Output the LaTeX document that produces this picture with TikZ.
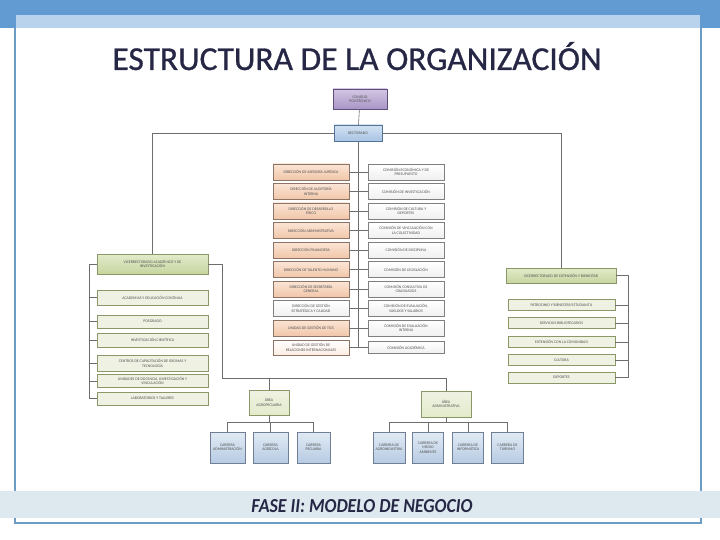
\documentclass[tikz,border=0pt]{standalone}
\usepackage{fontspec}
\setmainfont{Carlito}
\newfontfamily\titlefont{Carlito}[FakeBold=0.8]
\usepackage{graphicx}
\definecolor{topband}{HTML}{619BD1}
\definecolor{lightband}{HTML}{B9D3EC}
\definecolor{framecol}{HTML}{6C9BC6}
\definecolor{footband}{HTML}{DDE9EF}
\definecolor{navy}{HTML}{262645}
\definecolor{txtcol}{HTML}{505050}
\definecolor{linecol}{HTML}{6E6E6E}
\definecolor{dirtop}{HTML}{FBE5D6}
\definecolor{dirbot}{HTML}{F1C6A9}
\definecolor{dirdraw}{HTML}{8C7566}
\definecolor{comdraw}{HTML}{7F7F7F}
\definecolor{vrtop}{HTML}{E3EBCB}
\definecolor{vrbot}{HTML}{C6D59F}
\definecolor{vrdraw}{HTML}{8A9868}
\definecolor{subfill}{HTML}{EFF2E3}
\definecolor{cartop}{HTML}{E1EAF4}
\definecolor{carbot}{HTML}{B7CBE3}
\definecolor{cardraw}{HTML}{6F7F96}
\definecolor{contop}{HTML}{D3C7E4}
\definecolor{conbot}{HTML}{AA95C6}
\definecolor{condraw}{HTML}{5E4E7C}
\definecolor{rectop}{HTML}{D3E2F2}
\definecolor{recbot}{HTML}{A9C4E4}
\definecolor{recdraw}{HTML}{557399}
\begin{document}
\begin{tikzpicture}[x=1pt,y=-1pt,
  tx/.style={font=\fontsize{3.9}{4.4}\selectfont, text=txtcol, align=center, inner sep=0pt, line width=0.5},
  dirbox/.style={tx, draw=dirdraw, top color=dirtop, bottom color=dirbot, minimum width=76, minimum height=16},
  palebox/.style={tx, draw=dirdraw, top color=white, bottom color=dirtop!70, minimum width=76, minimum height=15},
  combox/.style={tx, draw=comdraw, top color=white, bottom color=black!6, minimum width=76, minimum height=16},
  vrbox/.style={tx, draw=vrdraw, top color=vrtop, bottom color=vrbot},
  subbox/.style={tx, draw=vrdraw, fill=subfill},
  areabox/.style={tx, draw=vrdraw, top color=subfill, bottom color=vrtop},
  carbox/.style={tx, draw=cardraw, top color=cartop, bottom color=carbot, minimum height=31},
  ln/.style={draw=linecol, line width=0.6}]
\useasboundingbox (0,0) rectangle (720,540);
\fill[white] (0,0) rectangle (720,540);
% frame
\fill[topband] (0,0) rectangle (720,28);
\fill[lightband] (16,15) rectangle (700,28);
\draw[framecol, line width=2.2] (15,28) -- (15,523) -- (701,523) -- (701,28);
\fill[footband] (0,491) rectangle (720,518);
\node[anchor=base, text=navy, inner sep=0pt, font=\titlefont\fontsize{33.5}{33.5}\selectfont] (title) at (357,70) {ESTRUCTURA DE LA ORGANIZACIÓN};
\node[anchor=base, text=navy, inner sep=0pt] (foot) at (362,512) {\resizebox{221pt}{13pt}{\bfseries\itshape FASE II: MODELO DE NEGOCIO}};

% top
\node[tx, draw=condraw, top color=contop, bottom color=conbot, minimum width=54, minimum height=20] (con) at (360,99) {CONSEJO\\POLITÉCNICO};
\node[tx, draw=recdraw, top color=rectop, bottom color=recbot, minimum width=48, minimum height=16] (rect) at (358,133) {RECTORADO};
\draw[ln] (con) -- (rect);

% central columns
\node[dirbox] (L0) at (311,172) {DIRECCIÓN DE ASESORÍA JURÍDICA};
\node[dirbox] (L1) at (311,191.5) {DIRECCIÓN DE AUDITORÍA\\INTERNA};
\node[dirbox] (L2) at (311,211) {DIRECCIÓN DE DESARROLLO\\FÍSICO};
\node[dirbox] (L3) at (311,230.5) {DIRECCIÓN ADMINISTRATIVA};
\node[dirbox] (L4) at (311,250) {DIRECCIÓN FINANCIERA};
\node[dirbox] (L5) at (311,269.5) {DIRECCIÓN DE TALENTO HUMANO};
\node[dirbox] (L6) at (311,289) {DIRECCIÓN DE SECRETARÍA\\GENERAL};
\node[combox] (L7) at (311,308.5) {DIRECCIÓN DE GESTIÓN\\ESTRATÉGICA Y CALIDAD};
\node[dirbox] (L8) at (311,328) {UNIDAD DE GESTIÓN DE TICS};
\node[palebox] (L9) at (311,347.5) {UNIDAD DE GESTIÓN DE\\RELACIONES INTERNACIONALES};

\node[combox] (R0) at (406,172) {COMISIÓN ECONÓMICA Y DE\\PRESUPUESTO};
\node[combox] (R1) at (406,191.5) {COMISIÓN DE INVESTIGACIÓN};
\node[combox] (R2) at (406,211) {COMISIÓN DE CULTURA Y\\DEPORTES};
\node[combox] (R3) at (406,230.5) {COMISIÓN DE VINCULACIÓN CON\\LA COLECTIVIDAD};
\node[combox] (R4) at (406,250) {COMISIÓN DE DISCIPLINA};
\node[combox] (R5) at (406,269.5) {COMISIÓN DE LEGISLACIÓN};
\node[combox] (R6) at (406,289) {COMISIÓN CONSULTIVA DE\\GRADUADOS};
\node[combox] (R7) at (406,308.5) {COMISIÓN DE EVALUACIÓN,\\SUELDOS Y SALARIOS};
\node[combox] (R8) at (406,328) {COMISIÓN DE EVALUACIÓN\\INTERNA};
\node[combox, minimum height=12] (R9) at (406,347.5) {COMISIÓN ACADÉMICA};

\draw[ln] (rect.south) -- (rect.south |- L9.east);
\foreach \i in {0,...,9} {
  \draw[ln] (L\i.east) -- (L\i.east -| rect.south);
  \draw[ln] (R\i.west) -- (R\i.west -| rect.south);
}

% vicerrectorados
\node[vrbox, minimum width=111, minimum height=20] (vra) at (152.5,264) {VICERRECTORADO ACADÉMICO Y DE\\INVESTIGACIÓN};
\node[vrbox, minimum width=110, minimum height=15] (vre) at (561,275.5) {VICERRECTORADO DE EXTENSIÓN Y BIENESTAR};
\draw[ln] (rect.west) -| (vra.north);
\draw[ln] (rect.east) -| (vre.north);

\node[subbox, minimum width=111, minimum height=15] (a1) at (152.5,297.5) {ACADEMIAS Y EDUCACIÓN CONTINUA};
\node[subbox, minimum width=111, minimum height=13] (a2) at (152.5,321.5) {POSGRADO};
\node[subbox, minimum width=111, minimum height=14] (a3) at (152.5,340) {INVESTIGACIÓN CIENTÍFICA};
\node[subbox, minimum width=111, minimum height=16] (a4) at (152.5,363.5) {CENTROS DE CAPACITACIÓN DE IDIOMAS Y\\TECNOLOGÍA};
\node[subbox, minimum width=111, minimum height=13] (a5) at (152.5,381) {UNIDADES DE DOCENCIA, INVESTIGACIÓN Y\\VINCULACIÓN};
\node[subbox, minimum width=111, minimum height=13] (a6) at (152.5,398.5) {LABORATORIOS Y TALLERES};
\coordinate (ab) at (89,264);
\draw[ln] (vra.west) -- (ab) -- (ab |- a6.west);
\foreach \i in {1,...,6} \draw[ln] (a\i.west) -- (a\i.west -| ab);

\node[subbox, minimum width=107, minimum height=11] (e1) at (561.5,305) {PATROCINIO Y BIENESTAR ESTUDIANTIL};
\node[subbox, minimum width=107, minimum height=11] (e2) at (561.5,323) {SERVICIOS BIBLIOTECARIOS};
\node[subbox, minimum width=107, minimum height=11] (e3) at (561.5,342) {EXTENSIÓN CON LA COMUNIDAD};
\node[subbox, minimum width=107, minimum height=11] (e4) at (561.5,360) {CULTURA};
\node[subbox, minimum width=107, minimum height=11] (e5) at (561.5,377.5) {DEPORTES};
\coordinate (eb) at (628,275.5);
\draw[ln] (vre.east) -- (eb) -- (eb |- e5.east);
\foreach \i in {1,...,5} \draw[ln] (e\i.east) -- (e\i.east -| eb);

% areas
\node[areabox, minimum width=40, minimum height=25] (ar1) at (269,402.5) {ÁREA\\AGROPECUARIA};
\node[areabox, minimum width=50, minimum height=26] (ar2) at (446,404) {ÁREA\\ADMINISTRATIVA};
\coordinate (vk) at (222,378);
\draw[ln] (vra.east) -| (vk) -- (vk -| ar2.north);
\draw[ln] (vk -| ar1.north) -- (ar1.north);
\draw[ln] (vk -| ar2.north) -- (ar2.north);

\node[carbox, minimum width=35] (c1) at (227.5,447.5) {CARRERA\\ADMINISTRACIÓN};
\node[carbox, minimum width=35] (c2) at (270.5,447.5) {CARRERA\\AGRÍCOLA};
\node[carbox, minimum width=33] (c3) at (313.5,447.5) {CARRERA\\PECUARIA};
\coordinate (k1) at (269,422);
\draw[ln] (ar1.south) -- (k1);
\draw[ln] (k1 -| c1.north) -- (k1 -| c3.north);
\foreach \i in {1,2,3} \draw[ln] (k1 -| c\i.north) -- (c\i.north);

\node[carbox, minimum width=32] (d1) at (389,447.5) {CARRERA DE\\AGROINDUSTRIA};
\node[carbox, minimum width=31] (d2) at (428,447.5) {CARRERA DE\\MEDIO\\AMBIENTE};
\node[carbox, minimum width=31] (d3) at (468,447.5) {CARRERA DE\\INFORMÁTICA};
\node[carbox, minimum width=32] (d4) at (507.5,447.5) {CARRERA DE\\TURISMO};
\coordinate (k2) at (446,422);
\draw[ln] (ar2.south) -- (k2);
\draw[ln] (k2 -| d1.north) -- (k2 -| d4.north);
\foreach \i in {1,...,4} \draw[ln] (k2 -| d\i.north) -- (d\i.north);
\end{tikzpicture}
\end{document}
